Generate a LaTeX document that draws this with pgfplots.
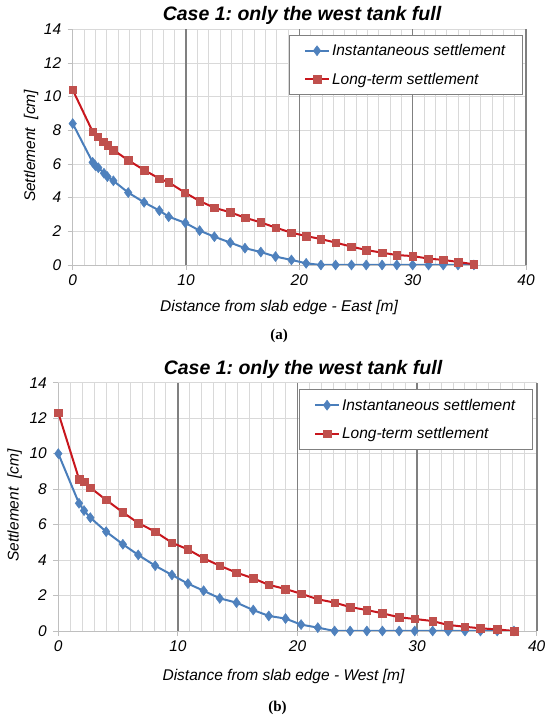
\documentclass[border=0pt]{standalone}
\usepackage{fontspec}
\setmainfont{Liberation Sans}
\newfontfamily\capfont{Liberation Serif}
\usepackage{pgfplots}
\pgfplotsset{compat=1.18}
\definecolor{bline}{HTML}{4A7EBB}
\definecolor{bmark}{HTML}{4F81BD}
\definecolor{rline}{HTML}{C8161D}
\definecolor{rmark}{HTML}{C0504D}
\definecolor{lgrid}{HTML}{D9D9D9}
\definecolor{agrid}{HTML}{BFBFBF}
\definecolor{dgrid}{HTML}{808080}
\pgfplotstableread{
x y
0 8.4
1.76 6.1
2.0 5.9
2.26 5.78
2.76 5.45
3.06 5.25
3.59 5.0
4.9 4.3
6.3 3.72
7.65 3.23
8.47 2.87
9.94 2.5
11.2 2.04
12.5 1.68
13.9 1.33
15.2 1.0
16.6 0.77
17.9 0.5
19.3 0.3
20.6 0.1
21.9 0
23.2 0
24.6 0
25.9 0
27.3 0
28.6 0
30.0 0
31.4 0
32.7 0
34.0 0
35.4 0
}\instA
\pgfplotstableread{
x y
0 10.4
1.76 7.92
2.2 7.62
2.7 7.33
3.09 7.13
3.59 6.83
4.9 6.22
6.3 5.64
7.65 5.13
8.47 4.91
9.9 4.3
11.2 3.8
12.5 3.4
13.9 3.13
15.2 2.81
16.6 2.53
17.9 2.22
19.3 1.92
20.6 1.72
21.9 1.54
23.2 1.33
24.6 1.09
25.9 0.89
27.3 0.73
28.6 0.59
30.0 0.53
31.4 0.38
32.7 0.3
34.0 0.18
35.4 0.04
}\longA
\pgfplotstableread{
x y
0 10.0
1.73 7.2
2.15 6.79
2.68 6.39
4.0 5.6
5.4 4.89
6.68 4.29
8.1 3.68
9.5 3.16
10.84 2.67
12.15 2.27
13.5 1.84
14.9 1.6
16.3 1.18
17.6 0.85
19.0 0.7
20.3 0.36
21.7 0.19
23.1 0
24.4 0
25.8 0
27.1 0
28.5 0
29.8 0
31.3 0
32.6 0
34.0 0
35.3 0
36.7 0
38.1 0
}\instB
\pgfplotstableread{
x y
0 12.3
1.73 8.57
2.15 8.42
2.68 8.08
4.0 7.39
5.4 6.69
6.68 6.09
8.1 5.6
9.5 4.98
10.84 4.6
12.15 4.1
13.5 3.68
14.9 3.29
16.3 2.97
17.6 2.6
19.0 2.37
20.3 2.1
21.7 1.79
23.1 1.6
24.4 1.35
25.8 1.18
27.1 1.0
28.5 0.77
29.8 0.68
31.3 0.56
32.6 0.34
34.0 0.24
35.3 0.15
36.7 0.09
38.1 0
}\longB
\pgfplotsset{
 mystyle/.style={
  scale only axis,
  anchor=south west,
  xmin=0,xmax=40,ymin=0,ymax=14,
  xtick={0,10,20,30,40}, ytick={0,2,4,6,8,10,12,14},
  xticklabels={\textit{0},\textit{10},\textit{20},\textit{30},\textit{40}},
  yticklabels={\textit{0},\textit{2},\textit{4},\textit{6},\textit{8},\textit{10},\textit{12},\textit{14}},
  minor x tick num=9,
  xminorgrids=true, ymajorgrids=true,
  minor grid style={lgrid, line width=0.9pt},
  major grid style={lgrid, line width=0.9pt},
  extra x ticks={10,20,30,40},
  extra x tick labels={},
  extra x tick style={grid=major, major grid style={dgrid,line width=1.6pt}},
  axis x line=bottom, axis y line=left,
  axis line style={draw=agrid, line width=0.9pt, -},
  tick style={draw=agrid, line width=0.9pt},
  major tick length=5pt, minor tick length=0pt,
  tick align=outside,
  ticklabel style={font=\fontsize{15.5}{18}\selectfont},
  yticklabel style={xshift=-3pt},
  xticklabel style={yshift=-1pt},
  legend cell align=left,
  legend style={anchor=north east, draw=dgrid, line width=0.9pt, fill=white,
    font=\fontsize{15.5}{18}\selectfont\itshape, inner xsep=15pt, inner ysep=7pt,
    row sep=12pt, nodes={inner xsep=2pt}},
  legend image code/.code={\draw[mark repeat=2,mark phase=2,##1] plot coordinates {(0pt,0pt)(12pt,0pt)(24pt,0pt)};},
 },
 inst/.style={color=bline, line width=2pt, mark=diamond*, mark size=5pt,
   mark options={fill=bmark, draw=bmark, line width=0.5pt}},
 long/.style={color=rline, line width=2pt, mark=square*, mark size=3.8pt,
   mark options={fill=rmark, draw=rmark, line width=0.5pt}},
}
\begin{document}
\frenchspacing
\begin{tikzpicture}[x=1pt,y=1pt]
\path[use as bounding box] (0pt,0pt) rectangle (550pt,722pt);
\begin{axis}[mystyle, at={(72.7pt,457pt)}, width=453.3pt, height=235.7pt,
  legend style={at={(0.9927,0.976)}}]
\addplot[inst] table[x=x,y=y] {\instA};
\addlegendentry{Instantaneous settlement}
\addplot[long] table[x=x,y=y] {\longA};
\addlegendentry{Long-term settlement}
\end{axis}
\begin{axis}[mystyle, at={(58.3pt,91pt)}, width=478.4pt, height=248.3pt,
  legend style={at={(0.9916,0.973)}}]
\addplot[inst] table[x=x,y=y] {\instB};
\addlegendentry{Instantaneous settlement}
\addplot[long] table[x=x,y=y] {\longB};
\addlegendentry{Long-term settlement}
\end{axis}
\node[anchor=base, font=\fontsize{19.5}{22}\selectfont\bfseries\itshape] at (302pt,701.3pt) {Case 1: only the west tank full};
\node[anchor=base, font=\fontsize{19.5}{22}\selectfont\bfseries\itshape] at (303pt,347pt) {Case 1: only the west tank full};
\node[anchor=base, font=\fontsize{15.5}{18}\selectfont\itshape] at (279pt,410pt) {Distance from slab edge - East [m]};
\node[anchor=base, font=\fontsize{15.5}{18}\selectfont\itshape] at (283.5pt,41pt) {Distance from slab edge - West [m]};
\node[rotate=90, font=\fontsize{15.5}{18}\selectfont\itshape] at (31pt,576pt) {Settlement\ \ [cm]};
\node[rotate=90, font=\fontsize{15.5}{18}\selectfont\itshape] at (14.5pt,216.4pt) {Settlement\ \ [cm]};
\node[font=\fontsize{15}{18}\selectfont\capfont\bfseries] at (279pt,386.5pt) {(a)};
\node[font=\fontsize{15}{18}\selectfont\capfont\bfseries] at (277.5pt,14.5pt) {(b)};
\end{tikzpicture}
\end{document}
